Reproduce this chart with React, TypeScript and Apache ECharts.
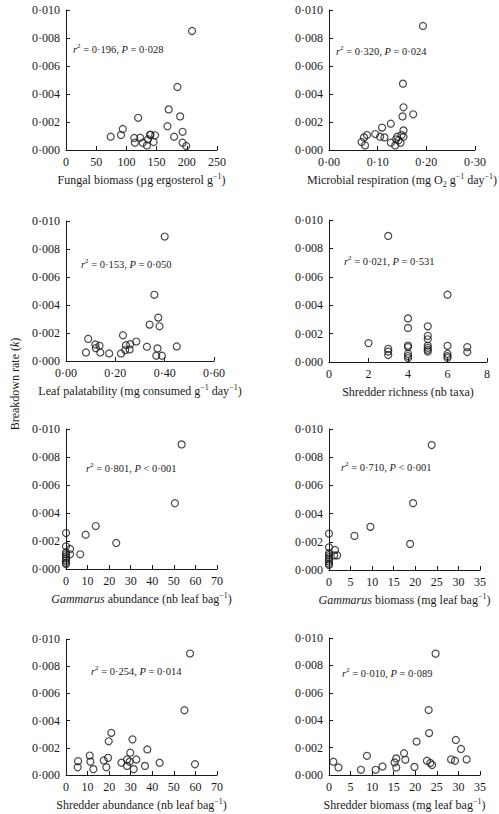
import React, { useEffect, useRef } from "react";
import * as echarts from "echarts";

// Breakdown rate (k) against eight site descriptors
const fungalX = [208.7, 184.5, 170, 189, 119.5, 168, 193, 179, 193, 199, 74, 91, 94, 113, 114, 123, 127, 134, 136, 139, 140, 147.6, 145];
const fungalK = [0.0085, 0.0045, 0.0029, 0.0024, 0.0023, 0.0017, 0.0013, 0.00095, 0.00052, 0.00029, 0.00095, 0.00107, 0.0015, 0.00086, 0.00052, 0.00088, 0.00052, 0.00033, 0.00076, 0.00107, 0.0011, 0.00105, 0.00057];

const respX = [0.193, 0.152, 0.153, 0.151, 0.173, 0.127, 0.153, 0.109, 0.095, 0.105, 0.114, 0.078, 0.072, 0.067, 0.074, 0.127, 0.136, 0.138, 0.14, 0.147, 0.149, 0.153, 0.143];
const respK = [0.00886, 0.00474, 0.00305, 0.0024, 0.00255, 0.00188, 0.0014, 0.0016, 0.00114, 0.00095, 0.0009, 0.00107, 0.0009, 0.00057, 0.00033, 0.00052, 0.00033, 0.00076, 0.00095, 0.00052, 0.00107, 0.00095, 0.0007];

const palatX = [0.4, 0.358, 0.374, 0.339, 0.379, 0.231, 0.09, 0.119, 0.136, 0.121, 0.139, 0.081, 0.175, 0.223, 0.24, 0.243, 0.258, 0.26, 0.285, 0.328, 0.371, 0.366, 0.389, 0.449];
const palatK = [0.00889, 0.00473, 0.0031, 0.0026, 0.00248, 0.00184, 0.00158, 0.00118, 0.00109, 0.00092, 0.00061, 0.00061, 0.00054, 0.00054, 0.00078, 0.00113, 0.00083, 0.0012, 0.00139, 0.00102, 0.0009, 0.00038, 0.00038, 0.00104];

const richX = [2, 3, 3, 3, 3, 4, 4, 4, 4, 4, 4, 4, 5, 5, 5, 5, 5, 5, 5, 6, 6, 6, 6, 6, 7, 7];
const richK = [0.00133, 0.00888, 0.00093, 0.00074, 0.00049, 0.00307, 0.0024, 0.00116, 0.00105, 0.00058, 0.00042, 0.00028, 0.00251, 0.00184, 0.0016, 0.00116, 0.001, 0.00086, 0.00074, 0.00474, 0.00114, 0.00058, 0.00042, 0.0003, 0.00105, 0.0007];

const gamAbX = [53.6, 50.5, 13.8, 9.1, 23.3, 6.6, 0, 0, 1.9, 1.9, 0, 0, 0, 0, 0, 0, 0];
const gamAbK = [0.0089, 0.0047, 0.00307, 0.00245, 0.00186, 0.00105, 0.00257, 0.00162, 0.00143, 0.00105, 0.0012, 0.00105, 0.0009, 0.00075, 0.0006, 0.00045, 0.00035];

const gamBioX = [23.8, 19.5, 9.6, 5.9, 18.8, 0, 0, 1.4, 1.9, 1.2, 0, 0, 0, 0, 0, 0, 0];
const gamBioK = [0.00886, 0.00474, 0.00306, 0.00242, 0.00185, 0.00258, 0.00161, 0.00142, 0.00104, 0.00104, 0.0012, 0.00105, 0.0009, 0.00075, 0.0006, 0.00045, 0.00035];

const shrAbX = [57.5, 54.9, 21, 19.8, 30.8, 37.7, 29.8, 11, 19.5, 5.6, 11.3, 17.5, 25.7, 28.3, 29.5, 32.6, 5.4, 12.7, 18.7, 28.3, 31.4, 36.6, 43.4, 59.8];
const shrAbK = [0.00893, 0.00476, 0.0031, 0.00248, 0.00262, 0.00188, 0.00164, 0.00143, 0.00126, 0.00102, 0.00098, 0.00107, 0.0009, 0.00114, 0.00098, 0.00114, 0.00057, 0.00043, 0.00057, 0.00067, 0.00043, 0.00067, 0.0009, 0.00079];

const shrBioX = [24.7, 23.1, 23.2, 20.3, 29.4, 30.6, 17.4, 8.8, 15.6, 17.7, 15.2, 1, 2.2, 7.4, 10.8, 12.4, 15.6, 19.8, 22.7, 23.5, 23.9, 28.3, 29.2, 31.9];
const shrBioK = [0.00886, 0.00474, 0.00306, 0.00244, 0.00256, 0.0019, 0.00159, 0.0014, 0.00121, 0.00111, 0.00092, 0.00097, 0.00055, 0.00038, 0.00038, 0.00062, 0.00055, 0.00059, 0.00104, 0.00088, 0.00073, 0.00114, 0.00104, 0.00114];

// Axis ranges and statistics printed in each panel
const xMax = [250, 0.3, 0.6, 8, 70, 35, 70, 35];
const xStep = [50, 0.1, 0.2, 2, 10, 5, 10, 5];
const xDecimals = [0, 2, 2, 0, 0, 0, 0, 0];
const rSquared = ["0·196", "0·320", "0·153", "0·021", "0·801", "0·710", "0·254", "0·010"];
const pValues = ["= 0·028", "= 0·024", "= 0·050", "= 0·531", "< 0·001", "< 0·001", "= 0·014", "= 0·089"];
const xNames = [
  "Fungal biomass (µg ergosterol g{sup|−1})",
  "Microbial respiration (mg O{sub|2} g{sup|−1} day{sup|−1})",
  "Leaf palatability (mg consumed g{sup|−1} day{sup|−1})",
  "Shredder richness (nb taxa)",
  "{i|Gammarus} abundance (nb leaf bag{sup|−1})",
  "{i|Gammarus} biomass (mg leaf bag{sup|−1})",
  "Shredder abundance (nb leaf bag{sup|−1})",
  "Shredder biomass (mg leaf bag{sup|−1})",
];

const FONT = "'Liberation Serif', 'Times New Roman', serif";
const INK = "#1a1a1a";

// Plot rectangles: [left, top, width, height]
const GRIDS = [
  [66, 10, 151, 140],
  [329, 10, 147, 140],
  [66, 221, 148, 140],
  [329, 220, 158, 142],
  [66, 429, 151, 140],
  [329, 429, 151, 141],
  [66, 639, 151, 140],
  [329, 638, 151, 141],
];
// Statistic label anchors (left, middle)
const STAT_POS = [
  [73, 49],
  [336, 51],
  [81, 264],
  [344, 261],
  [86, 468],
  [341, 467],
  [91, 671],
  [342, 673],
];

const panels = [
  [fungalX, fungalK],
  [respX, respK],
  [palatX, palatK],
  [richX, richK],
  [gamAbX, gamAbK],
  [gamBioX, gamBioK],
  [shrAbX, shrAbK],
  [shrBioX, shrBioK],
];

const dotted = (v: number, d: number) => v.toFixed(d).replace(".", "·");

export default function App() {
  const ref = useRef<HTMLDivElement>(null);

  useEffect(() => {
    if (!ref.current) return;
    const chart = echarts.init(ref.current, null, { renderer: "svg" });

    const richStyles = {
      sup: { fontSize: 8, fontFamily: FONT, color: INK, verticalAlign: "top", lineHeight: 8 },
      sub: { fontSize: 8, fontFamily: FONT, color: INK, verticalAlign: "bottom", lineHeight: 8 },
      i: { fontSize: 12, fontFamily: FONT, color: INK, fontStyle: "italic", lineHeight: 16 },
    };

    const axisLine = { show: true, lineStyle: { color: INK, width: 1 } };
    const axisTick = { show: true, inside: true, length: 4, lineStyle: { color: INK, width: 1 } };

    const grid = GRIDS.map(([left, top, width, height]) => ({ left, top, width, height }));

    const xAxis = xMax.map((max, i) => ({
      type: "value",
      gridIndex: i,
      min: 0,
      max,
      interval: xStep[i],
      axisLine,
      axisTick,
      splitLine: { show: false },
      axisLabel: {
        color: INK,
        fontFamily: FONT,
        fontSize: 12,
        margin: 6,
        showMinLabel: true,
        showMaxLabel: true,
        formatter: (v: number) => dotted(v, xDecimals[i]),
      },
      name: xNames[i],
      nameLocation: "middle",
      nameGap: 22,
      nameTextStyle: { color: INK, fontFamily: FONT, fontSize: 12, lineHeight: 16, rich: richStyles },
    }));

    const yAxis = xMax.map((_, i) => ({
      type: "value",
      gridIndex: i,
      min: 0,
      max: 0.01,
      interval: 0.002,
      axisLine,
      axisTick,
      splitLine: { show: false },
      axisLabel: {
        color: INK,
        fontFamily: FONT,
        fontSize: 12,
        margin: 6,
        showMinLabel: true,
        showMaxLabel: true,
        formatter: (v: number) => dotted(v, 3),
      },
    }));

    const series = panels.map(([xs, ks], i) => ({
      type: "scatter",
      xAxisIndex: i,
      yAxisIndex: i,
      symbol: "circle",
      symbolSize: 7,
      itemStyle: { color: "transparent", borderColor: INK, borderWidth: 1.2 },
      data: xs.map((x, j) => [x, ks[j]]),
    }));

    const statTexts = STAT_POS.map(([x, y], i) => ({
      type: "text",
      x,
      y,
      style: {
        text: `{i|r}{s|2} = ${rSquared[i]}, {i|P} ${pValues[i]}`,
        fill: INK,
        fontFamily: FONT,
        fontSize: 10.5,
        textVerticalAlign: "middle",
        rich: {
          i: { fontStyle: "italic", fontFamily: FONT, fontSize: 10.5, fill: INK, lineHeight: 13 },
          s: { fontFamily: FONT, fontSize: 7, fill: INK, verticalAlign: "top", lineHeight: 7 },
        },
      },
    }));

    chart.setOption({
      animation: false,
      backgroundColor: "#ffffff",
      grid,
      xAxis,
      yAxis,
      series,
      graphic: [
        ...statTexts,
        {
          type: "text",
          x: 15,
          y: 384,
          rotation: Math.PI / 2,
          style: {
            text: "Breakdown rate ({i|k})",
            fill: INK,
            fontFamily: FONT,
            fontSize: 12,
            textAlign: "center",
            textVerticalAlign: "middle",
            rich: {
              i: { fontStyle: "italic", fontFamily: FONT, fontSize: 12, fill: INK },
            },
          },
        },
      ],
    });

    return () => chart.dispose();
  }, []);

  return (
    <div
      ref={ref}
      style={{ position: "fixed", left: 0, top: 0, width: 499, height: 814, background: "#fff" }}
    />
  );
}
